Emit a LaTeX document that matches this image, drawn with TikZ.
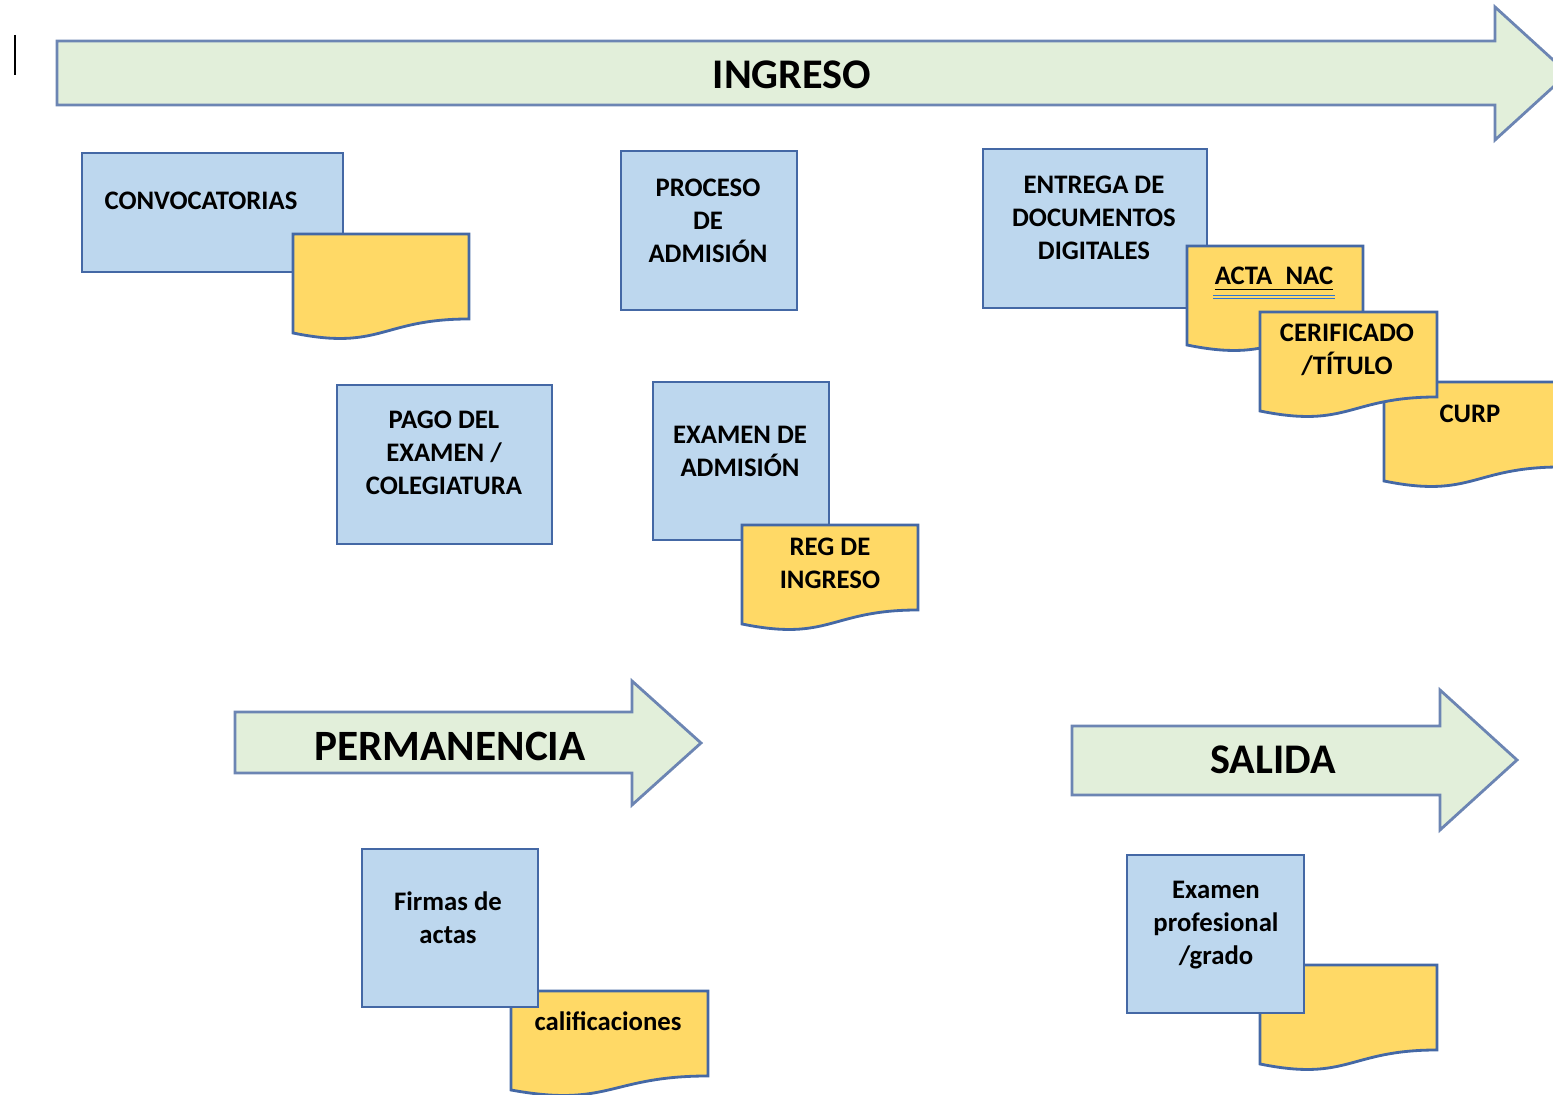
\documentclass[tikz,border=0pt]{standalone}
\usepackage{fontspec}
\setmainfont{Carlito}
\usetikzlibrary{positioning}
\definecolor{cajaazul}{HTML}{BDD7EE}
\definecolor{bordeazul}{HTML}{4468A5}
\definecolor{verdeflecha}{HTML}{E2EFDA}
\definecolor{bordeflecha}{HTML}{6C85B3}
\definecolor{amarillo}{HTML}{FFD966}
\definecolor{azulword}{HTML}{2E75D6}

% hoja: nombre, x, y, ancho, alto del texto (en px)
\newcommand{\hoja}[5]{%
\draw[draw=bordeazul, fill=amarillo] (#2,#3) -- ({#2+#4},#3) -- ({#2+#4},{#3+85})
	.. controls ({#2+#4/2},{#3+85}) and ({#2+#4/2},{#3+117}) .. (#2,{#3+99}) -- cycle;
\coordinate (#1) at ({#2+#4/2},{#3+#5});}

\begin{document}
\begin{tikzpicture}[x=0.01cm, y=-0.01cm, line width=0.8pt]
\tikzstyle{caja} = [rectangle, draw=bordeazul, fill=cajaazul, inner sep=0pt]
\tikzstyle{txt} = [font=\bfseries\fontsize{7.6}{9.4}\selectfont, align=center, inner sep=0pt]
\tikzstyle{flecha} = [draw=bordeflecha, fill=verdeflecha, line join=miter]
\tikzstyle{rotulo} = [font=\bfseries\fontsize{12}{14}\selectfont, inner sep=0pt]
\tikzstyle{subrayado} = [draw=azulword, double=amarillo, double distance=0.45pt, line width=0.4pt]

\useasboundingbox (0,0) rectangle (1553,1095);
\draw[black, line width=0.8pt] (15,35) -- (15,75);

% flechas de etapas
\draw[flecha] (57,41) -- (1495,41) -- (1495,7) -- (1568,73.5) -- (1495,140) -- (1495,105) -- (57,105) -- cycle;
\node[rotulo] (ingreso) at (792,75) {INGRESO};
\draw[flecha] (235,712) -- (632,712) -- (632,681) -- (701,743) -- (632,805) -- (632,773) -- (235,773) -- cycle;
\node[rotulo, font=\bfseries\fontsize{12.3}{14}\selectfont] (permanencia) at (450,746) {PERMANENCIA};
\draw[flecha] (1072,726) -- (1440,726) -- (1440,690) -- (1517,760) -- (1440,830) -- (1440,795) -- (1072,795) -- cycle;
\node[rotulo] (salida) at (1273,760) {SALIDA};

% ingreso
\node[caja, minimum width=2.61cm, minimum height=1.19cm] (conv) at (212.5,212.5) {};
\node[txt] (tconv) at (201,201) {CONVOCATORIAS};
\hoja{hconv}{293}{234}{176}{40}

\node[caja, minimum width=1.76cm, minimum height=1.59cm] (proceso) at (709,230.5) {};
\node[txt] (tproceso) at (708,221) {PROCESO\\DE\\ADMISIÓN};

\node[caja, minimum width=2.24cm, minimum height=1.59cm] (entrega) at (1095,228.5) {};
\node[txt] (tentrega) at (1094,218) {ENTREGA DE\\DOCUMENTOS\\DIGITALES};
\hoja{hacta}{1187}{246}{176}{32}
\node[txt] (acta) at (1274,279) {\underline{ACTA\enspace NAC}};
\draw[subrayado] ([yshift=-1.2pt]acta.south west) -- ([yshift=-1.2pt]acta.south east);
\hoja{hcurp}{1384}{382}{177}{32}
\node[txt] (curp) at (hcurp -| 1470,0) {CURP};
\hoja{hcerif}{1260}{312}{177}{38}
\node[txt] (cerif) at (1347,350) {CERIFICADO\\/TÍTULO};

\node[caja, minimum width=2.15cm, minimum height=1.59cm] (pago) at (444.5,464.5) {};
\node[txt] (tpago) at (444,453) {PAGO DEL\\EXAMEN /\\COLEGIATURA};

\node[caja, minimum width=1.76cm, minimum height=1.58cm] (examen) at (741,461) {};
\node[txt] (texamen) at (740,451) {EXAMEN DE\\ADMISIÓN};
\hoja{hreg}{742}{525}{176}{38}
\node[txt] (reg) at (hreg) {REG DE\\INGRESO};

% permanencia
\hoja{hcalif}{511}{991}{197}{30}
\node[txt] (calif) at (608,1021) {calificaciones};
\node[caja, minimum width=1.76cm, minimum height=1.58cm] (firmas) at (450,928) {};
\node[txt] (tfirmas) at (448,918) {Firmas de\\actas};

% salida
\hoja{hprof}{1260}{965}{177}{40}
\node[caja, minimum width=1.77cm, minimum height=1.58cm] (prof) at (1215.5,934) {};
\node[txt] (tprof) at (1216,925) {Examen\\profesional\\/grado};
\end{tikzpicture}
\end{document}
